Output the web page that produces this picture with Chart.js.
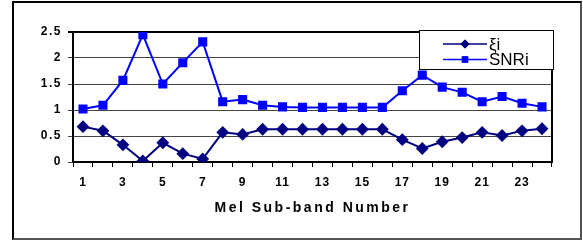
<!DOCTYPE html>
<html>
<head>
<meta charset="utf-8">
<script src="https://cdn.jsdelivr.net/npm/chart.js@4.4.1/dist/chart.umd.min.js"></script>
<style>
  html, body { margin: 0; padding: 0; background: #fff; }
  #wrap { position: relative; width: 583px; height: 241px; }
  #frame {
    position: absolute; left: 12px; top: 1px; width: 566px; height: 235px;
    border-left: 2px solid #000; border-top: 2px solid #000;
    border-right: 2px solid #555; border-bottom: 2px solid #555;
  }
  canvas { position: absolute; left: 0; top: 0; }
</style>
</head>
<body>
<div id="wrap">
  <div id="frame"></div>
  <canvas id="chart" width="583" height="241"></canvas>
</div>
<script>
// sub-band numbers 1..24
const bands = ["1","2","3","4","5","6","7","8","9","10","11","12",
               "13","14","15","16","17","18","19","20","21","22","23","24"];

const xi = [0.68, 0.60, 0.33, 0.02, 0.37, 0.16, 0.06, 0.57, 0.53, 0.63, 0.63, 0.63,
            0.63, 0.63, 0.63, 0.63, 0.43, 0.26, 0.39, 0.47, 0.57, 0.51, 0.60, 0.64];

const snr = [1.02, 1.09, 1.57, 2.45, 1.50, 1.91, 2.31, 1.16, 1.20, 1.09, 1.06, 1.05,
             1.05, 1.05, 1.05, 1.05, 1.37, 1.67, 1.44, 1.34, 1.16, 1.26, 1.13, 1.06];

const seriesNames = ["ξi", "SNRi"];

Chart.defaults.font.family = "'Liberation Sans', Arial, sans-serif";
Chart.defaults.color = "#000";

// wrap a scale draw method so its text gets some letter spacing
function spaced(scale, fn, px) {
  if (scale["_sp_" + fn]) return;
  const orig = scale[fn];
  scale[fn] = function (...args) {
    this.ctx.save();
    this.ctx.letterSpacing = px;
    orig.apply(this, args);
    this.ctx.restore();
  };
  scale["_sp_" + fn] = true;
}

// box around plot + legend box in the top right corner
const decor = {
  id: "decor",
  beforeDraw(chart) {
    spaced(chart.scales.x, "drawTitle", "2.5px");
    spaced(chart.scales.x, "drawLabels", "1px");
    spaced(chart.scales.y, "drawLabels", "1.5px");
  },
  beforeDatasetsDraw(chart) {
    const { ctx, chartArea: a } = chart;
    ctx.save();
    ctx.strokeStyle = "#000";
    ctx.lineWidth = 2;
    ctx.beginPath();
    ctx.moveTo(a.left, a.top);
    ctx.lineTo(a.right, a.top);
    ctx.lineTo(a.right, a.bottom);
    ctx.stroke();
    ctx.restore();
  },
  afterDraw(chart) {
    const ctx = chart.ctx;
    ctx.save();
    ctx.fillStyle = "#fff";
    ctx.strokeStyle = "#000";
    ctx.lineWidth = 1;
    ctx.fillRect(419.5, 30.5, 134, 39);
    ctx.strokeRect(419.5, 30.5, 134, 39);
    const rows = [44, 59.5];
    chart.data.datasets.forEach((ds, i) => {
      const y = rows[i];
      ctx.strokeStyle = ds.borderColor;
      ctx.lineWidth = 1.5;
      ctx.beginPath();
      ctx.moveTo(443, y);
      ctx.lineTo(487, y);
      ctx.stroke();
      ctx.fillStyle = ds.backgroundColor;
      Chart.helpers.drawPoint(ctx, { pointStyle: ds.pointStyle, radius: ds.pointRadius - 0.5, borderWidth: 0 }, 465, y);
      ctx.fill();
      ctx.fillStyle = "#000";
      ctx.font = "17px 'Liberation Sans', Arial, sans-serif";
      ctx.textBaseline = "middle";
      ctx.fillText(ds.label, 489, y + 1);
    });
    ctx.restore();
  }
};

new Chart(document.getElementById("chart"), {
  type: "line",
  data: {
    labels: bands,
    datasets: [
      {
        label: seriesNames[0], data: xi,
        borderColor: "#000080", backgroundColor: "#000080",
        borderWidth: 2, pointStyle: "rectRot", pointRadius: 5, tension: 0
      },
      {
        label: seriesNames[1], data: snr,
        borderColor: "#0000ff", backgroundColor: "#0000ff",
        borderWidth: 2, pointStyle: "rect", pointRadius: 5, tension: 0
      }
    ]
  },
  options: {
    responsive: false,
    animation: false,
    devicePixelRatio: 1,
    layout: { padding: { top: 32, right: 31, left: 0, bottom: 0 } },
    plugins: { legend: { display: false }, tooltip: { enabled: false } },
    scales: {
      x: {
        offset: true,
        grid: { offset: true, drawOnChartArea: false, color: "#000", tickLength: 5 },
        border: { color: "#000", width: 2 },
        ticks: {
          autoSkip: false, maxRotation: 0, padding: 8,
          font: { size: 12, weight: "bold" },
          callback: function (v, i) { return i % 2 === 0 ? this.getLabelForValue(v) : ""; }
        },
        title: {
          display: true, text: "Mel Sub-band Number",
          font: { size: 14, weight: "bold" },
          padding: { top: 4, bottom: 24 }
        },
        afterFit(s) { s.height = 79; }
      },
      y: {
        min: 0, max: 2.5,
        grid: {
          color: (c) => c.tick && c.tick.value === 2.5 ? "#000" : "#444",
          lineWidth: (c) => c.tick && c.tick.value === 2.5 ? 2 : 1,
          tickLength: 5
        },
        border: { color: "#000", width: 2 },
        ticks: {
          stepSize: 0.5, padding: 6, font: { size: 12, weight: "bold" },
          callback: (v) => String(v)
        },
        afterFit(s) { s.width = 73; }
      }
    }
  },
  plugins: [decor]
});
</script>
</body>
</html>
